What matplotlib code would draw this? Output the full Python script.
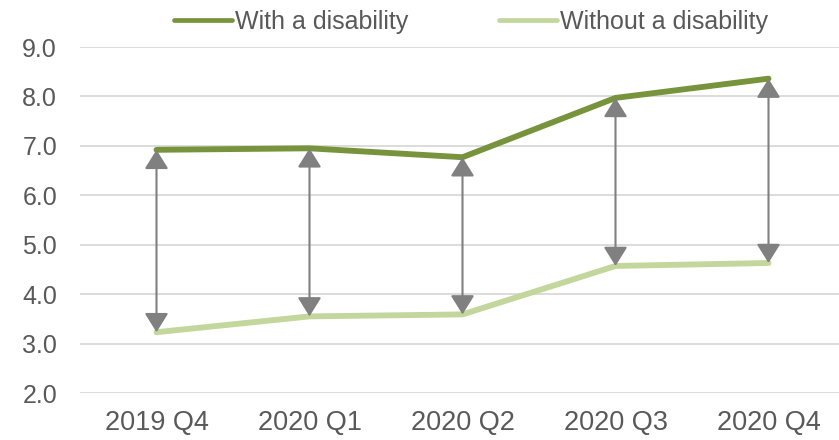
import matplotlib.pyplot as plt

plt.rcParams['font.family'] = ['Liberation Sans', 'DejaVu Sans']

quarters = ["2019 Q4", "2020 Q1", "2020 Q2", "2020 Q3", "2020 Q4"]
with_dis = [6.92, 6.95, 6.77, 7.97, 8.36]
without_dis = [3.23, 3.55, 3.59, 4.57, 4.63]
yticks = [2.0, 3.0, 4.0, 5.0, 6.0, 7.0, 8.0, 9.0]

dark = "#77933C"
light = "#C3D69B"
grey_txt = "#595959"

fig = plt.figure(figsize=(8.39, 4.40), dpi=100)
ax = fig.add_axes([80/839, 1 - 393/440, 765/839, 346/440])

x = range(len(quarters))
ax.plot(x, with_dis, color=dark, lw=4.2, label="With a disability",
        solid_capstyle="round", zorder=3)
ax.plot(x, without_dis, color=light, lw=4.2, label="Without a disability",
        solid_capstyle="round", zorder=3)

# double arrows showing the gap
for i in x:
    ax.annotate("", xy=(i, without_dis[i]), xytext=(i, with_dis[i]),
                arrowprops=dict(arrowstyle="<|-|>,head_length=0.45,head_width=0.28",
                                color="#808080", lw=1.5,
                                mutation_scale=26, shrinkA=0, shrinkB=0),
                zorder=4)

ax.set_xlim(-0.5, 4.5)
ax.set_ylim(2, 9)
ax.set_yticks(yticks)
ax.set_yticklabels([f"{v:.1f}" for v in yticks])
ax.set_xticks(list(x))
ax.set_xticklabels(quarters)
ax.grid(axis="y", color="#D9D9D9", lw=1.3)
ax.set_axisbelow(True)
for s in ax.spines.values():
    s.set_visible(False)
ax.tick_params(length=0, colors=grey_txt)
ax.tick_params(axis="x", labelsize=19.5, pad=12)
ax.tick_params(axis="y", labelsize=18, pad=16.5)

leg = fig.legend(loc="center", bbox_to_anchor=(471/839, 1 - 22/440), ncol=2,
                 frameon=False, fontsize=18, handlelength=2.35,
                 handletextpad=0.12, columnspacing=3.6)
for t in leg.get_texts():
    t.set_color(grey_txt)
for l in leg.get_lines():
    l.set_linewidth(3.4)

fig.savefig("out.png", dpi=100)
